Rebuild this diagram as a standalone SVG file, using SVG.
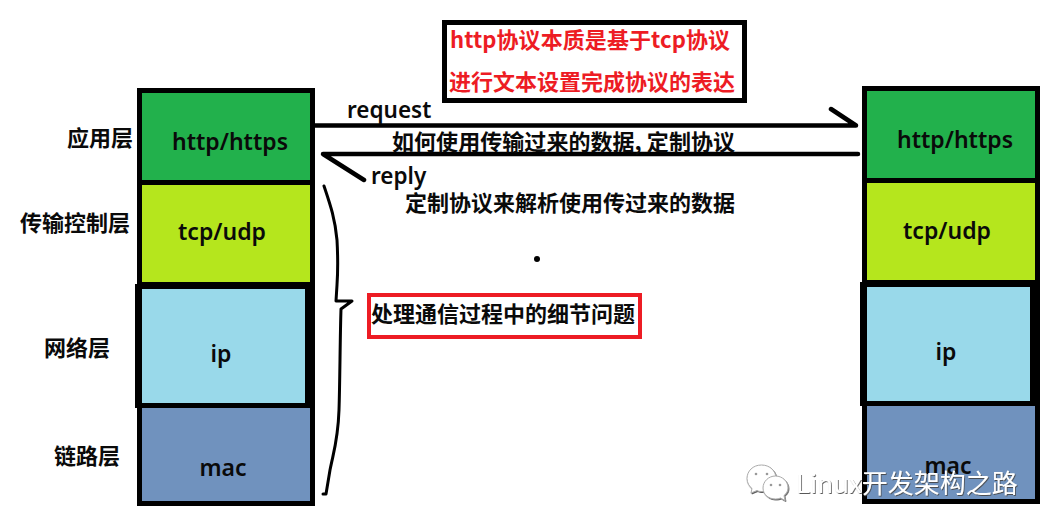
<svg xmlns="http://www.w3.org/2000/svg" width="1051" height="531" viewBox="0 0 1051 531">
<defs>
<filter id="sh" x="-5%" y="-20%" width="110%" height="140%"><feDropShadow dx="0.800" dy="1" stdDeviation="0.500" flood-color="#444" flood-opacity="0.900"/></filter>
</defs>
<style>
text{font-family:"Noto Sans","Noto Sans CJK SC",sans-serif;font-weight:600;fill:#0a0a0a;font-size:22.500px}
.c{text-anchor:middle;font-size:23px}
.cj{font-family:"Noto Sans CJK SC","Noto Sans",sans-serif;font-weight:700;font-size:22px}
.red{fill:#ed1c24;font-size:22px}
.k{fill:#000}
.a{fill:#22b14c}.b{fill:#b5e61d}.d{fill:#99d9ea}.e{fill:#7092be}
.ln{fill:none;stroke:#000;stroke-linecap:round;stroke-linejoin:round}
.wm{font-family:"Noto Sans CJK SC","Noto Sans",sans-serif;font-weight:400;font-size:26px;fill:#fff}
</style>
<rect width="1051" height="531" fill="#fff"/>

<g id="left-stack">
<rect class="k" x="137" y="88" width="178" height="418"/>
<rect class="k" x="135" y="284" width="10" height="124"/>
<rect class="a" x="142" y="93" width="168" height="87"/>
<rect class="b" x="142" y="185" width="168" height="97"/>
<rect class="d" x="142" y="289" width="163" height="114"/>
<rect class="e" x="142" y="408" width="168" height="93"/>
<text class="c" x="230" y="150">http/https</text>
<text class="c" x="222" y="240">tcp/udp</text>
<text class="c" x="221" y="362">ip</text>
<text class="c" x="223" y="476">mac</text>
</g>

<g id="right-stack">
<rect class="k" x="862" y="86" width="178" height="418"/>
<rect class="k" x="860" y="282" width="10" height="124"/>
<rect class="a" x="867" y="91" width="168" height="87"/>
<rect class="b" x="867" y="183" width="168" height="97"/>
<rect class="d" x="867" y="287" width="163" height="114"/>
<rect class="e" x="867" y="406" width="168" height="93"/>
<text class="c" x="955" y="148">http/https</text>
<text class="c" x="947" y="239">tcp/udp</text>
<text class="c" x="946" y="360">ip</text>
<text class="c" x="948" y="474">mac</text>
</g>

<g id="layer-labels">
<text class="cj" x="67" y="146">应用层</text>
<text class="cj" x="20" y="231">传输控制层</text>
<text class="cj" x="44" y="356">网络层</text>
<text class="cj" x="54" y="464">链路层</text>
</g>

<g id="connectors">
<path class="ln" stroke-width="4.500" d="M315 125.500H856L831 109"/>
<path class="ln" stroke-width="4.500" d="M858 154H323L364 180"/>
<path class="ln" stroke-width="3" d="M324 186C330 204 335 218 337 240C338 258 338 270 337 285L336 301H352L341 309C340 340 340 380 339 410C338 440 334 450 330 470L326 494H323"/>
</g>

<g id="note-top">
<rect x="444.500" y="22.500" width="300" height="78" fill="#fff" stroke="#000" stroke-width="5"/>
<text class="cj red" x="450" y="48" textLength="280">http协议本质是基于tcp协议</text>
<text class="cj red" x="449" y="90">进行文本设置完成协议的表达</text>
</g>

<g id="note-brace">
<rect x="369" y="295" width="271" height="42" fill="#fff" stroke="#ed1c24" stroke-width="4"/>
<text class="cj" x="371" y="322">处理通信过程中的细节问题</text>
</g>

<g id="labels">
<text x="347" y="118">request</text>
<text class="cj" x="392" y="150" textLength="343">如何使用传输过来的数据, 定制协议</text>
<text x="371" y="184">reply</text>
<text class="cj" x="405" y="211">定制协议来解析使用传过来的数据</text>
<circle cx="537" cy="259" r="3" fill="#000"/>
</g>

<g id="watermark" filter="url(#sh)">
<g fill="#fff" stroke="#aaa" stroke-width="1">
<path d="M761.500 465C753 465 747 471 747 478.500C747 483 749.500 486.500 752 488.500L751 493L757 490.500C759 491.500 760 491.500 763 491.500C769 491.500 776 485 776 478.500C776 471 770 465 761.500 465Z"/>
<path d="M775.500 476C768.500 476 763 481.500 763 488C763 494.500 768.500 499 775.500 499C777.500 499 779 498.800 780.500 498L785 500.500L784 495.500C786.500 493.500 788 491 788 488C788 481.500 782.500 476 775.500 476Z"/>
</g>
<g fill="#999"><circle cx="756" cy="474" r="1.300"/><circle cx="767" cy="474" r="1.300"/><circle cx="771" cy="485" r="1.300"/><circle cx="780" cy="485" r="1.300"/></g>
<text class="wm" x="796" y="493">Linux开发架构之路</text>
</g>
</svg>
